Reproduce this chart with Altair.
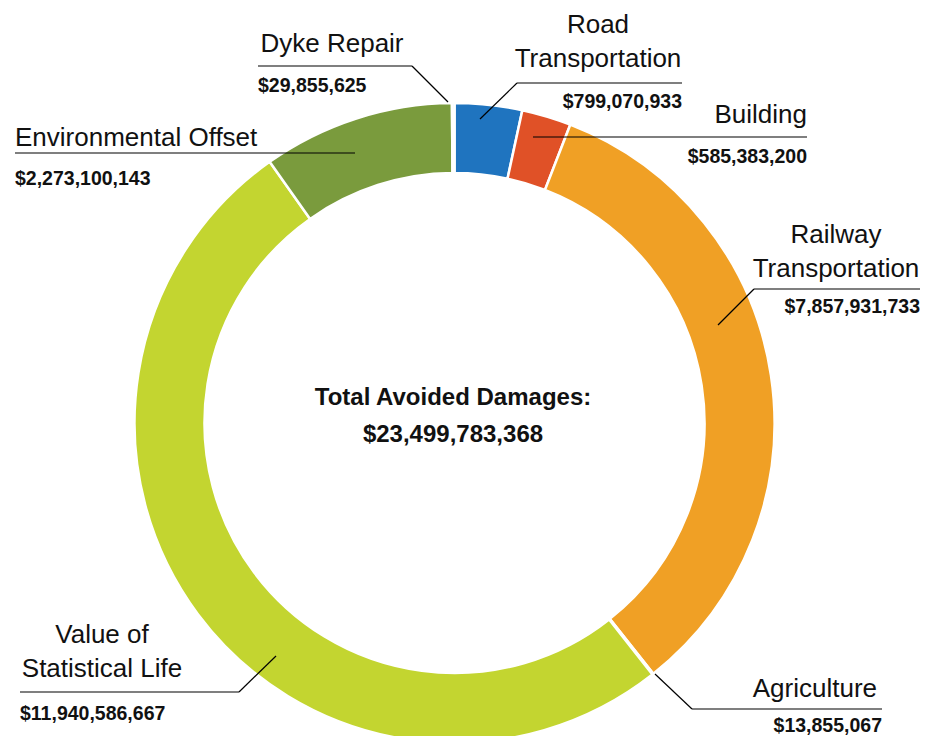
import altair as alt
import pandas as pd

# ---- data ----
categories = ["Road Transportation", "Building", "Railway Transportation", "Agriculture",
              "Value of Statistical Life", "Environmental Offset", "Dyke Repair"]
values = [799070933, 585383200, 7857931733, 13855067, 11940586667, 2273100143, 29855625]
colors = ["#1f74bf", "#e05127", "#f0a025", "#9aa23a", "#c3d530", "#7a9b3d", "#2bb6cb"]
name_lines = [["Road", "Transportation"], ["Building"], ["Railway", "Transportation"], ["Agriculture"],
              ["Value of", "Statistical Life"], ["Environmental Offset"], ["Dyke Repair"]]
total_title = "Total Avoided Damages:"

# ---- layout (page pixel positions of annotations) ----
OFF = 8  # page margin
CX, CY = 454.5 - OFF, 423 - OFF
layout = {
    "Dyke Repair": dict(names=[(332, 52)], nalign="center", val=(258, 92), valign="left",
                        leader=[(258, 66), (412, 66), (448, 102)]),
    "Road Transportation": dict(names=[(598, 33), (598, 67)], nalign="center", val=(682, 108), valign="right",
                                leader=[(682, 83), (517, 83), (480, 119)]),
    "Building": dict(names=[(807, 123)], nalign="right", val=(807, 163), valign="right",
                     leader=[(807, 137), (533, 137)]),
    "Railway Transportation": dict(names=[(836, 243), (836, 277)], nalign="center", val=(920, 313), valign="right",
                                   leader=[(920, 289), (754, 289), (718, 325)]),
    "Agriculture": dict(names=[(877, 697)], nalign="right", val=(882, 732), valign="right",
                        leader=[(882, 709), (692, 709), (655, 674)]),
    "Value of Statistical Life": dict(names=[(102, 643), (102, 677)], nalign="center", val=(20, 720), valign="left",
                                      leader=[(20, 692), (239, 692), (276, 656)]),
    "Environmental Offset": dict(names=[(15, 146)], nalign="left", val=(15, 185), valign="left",
                                 leader=[(15, 153), (355, 153)]),
}

df = pd.DataFrame({"category": categories, "value": values, "idx": list(range(len(categories)))})

name_rows, val_rows, seg_rows = [], [], []
for cat, v, lines in zip(categories, values, name_lines):
    L = layout[cat]
    for line, (x, y) in zip(lines, L["names"]):
        name_rows.append(dict(text=line, x=x - OFF, y=y - OFF, align=L["nalign"]))
    vx, vy = L["val"]
    val_rows.append(dict(text=f"${v:,}", x=vx - OFF, y=vy - OFF, align=L["valign"]))
    pts = L["leader"]
    for (x1, y1), (x2, y2) in zip(pts[:-1], pts[1:]):
        seg_rows.append(dict(x=x1 - OFF, y=y1 - OFF, x2=x2 - OFF, y2=y2 - OFF))

names_df = pd.DataFrame(name_rows)
vals_df = pd.DataFrame(val_rows)
segs_df = pd.DataFrame(seg_rows)
center_df = pd.DataFrame({"text": [total_title, f"${sum(values):,}"],
                          "x": [453 - OFF, 453 - OFF], "y": [405 - OFF, 442 - OFF]})

FONT = "Liberation Sans"

arc = alt.Chart(df).mark_arc(innerRadius=250, outerRadius=320, stroke="white", strokeWidth=2.5).encode(
    theta=alt.Theta("value:Q", stack=True),
    order=alt.Order("idx:Q"),
    color=alt.Color("category:N", scale=alt.Scale(domain=categories, range=colors), legend=None),
    x=alt.value(CX), y=alt.value(CY),
)

rules = alt.Chart(segs_df).mark_rule(color="black", strokeWidth=1.2).encode(
    x=alt.X("x:Q", scale=None), y=alt.Y("y:Q", scale=None),
    x2="x2:Q", y2="y2:Q",
)

layers = [arc, rules]
for a in ["left", "center", "right"]:
    sub = names_df[names_df["align"] == a]
    if len(sub):
        layers.append(alt.Chart(sub).mark_text(align=a, baseline="alphabetic", font=FONT, fontSize=26,
                                               color="#111111").encode(
            x=alt.X("x:Q", scale=None), y=alt.Y("y:Q", scale=None), text="text:N"))
    sub = vals_df[vals_df["align"] == a]
    if len(sub):
        layers.append(alt.Chart(sub).mark_text(align=a, baseline="alphabetic", font=FONT, fontSize=19.5,
                                               fontWeight="bold", color="#111111").encode(
            x=alt.X("x:Q", scale=None), y=alt.Y("y:Q", scale=None), text="text:N"))

layers.append(alt.Chart(center_df).mark_text(align="center", baseline="alphabetic", font=FONT, fontSize=24,
                                             fontWeight="bold", color="#111111").encode(
    x=alt.X("x:Q", scale=None), y=alt.Y("y:Q", scale=None), text="text:N"))

chart = alt.layer(*layers).properties(
    width=917, height=728, autosize="none", padding=0
).configure_view(stroke=None)

chart.save("out.html", embed_options={"renderer": "svg", "actions": False})
